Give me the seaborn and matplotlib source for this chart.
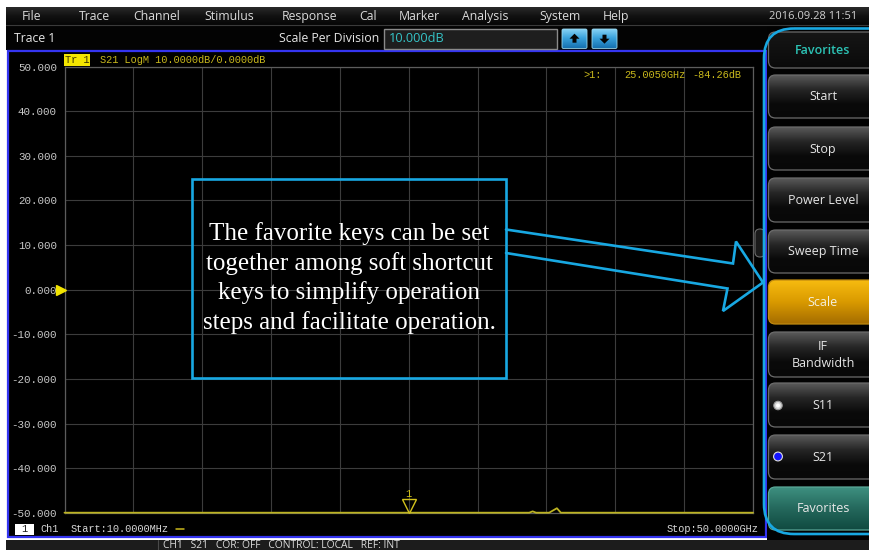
import numpy as np
import pandas as pd
import matplotlib
matplotlib.use("Agg")
import matplotlib.pyplot as plt
import matplotlib.colors as mcolors
import matplotlib.transforms as mtransforms
from matplotlib.patches import Rectangle, FancyBboxPatch, Polygon, Circle
from matplotlib.lines import Line2D
import seaborn as sns

# ---------------- measurement data ----------------
freq_ghz = [0.01, 5.0, 10.0, 15.0, 20.0, 25.005, 30.0, 33.75, 34.0, 34.25,
            35.2, 35.76, 36.05, 40.0, 45.0, 50.0]
s21_db = [-85.9, -85.2, -84.7, -85.4, -84.9, -84.26, -83.8, -80.5, -49.7, -81.0,
          -80.2, -49.0, -79.8, -84.6, -85.1, -85.8]
y_ticks_db = [50, 40, 30, 20, 10, 0, -10, -20, -30, -40, -50]
scale_per_div_db = 10.0
ref_level_db = 0.0
marker_freq_ghz = 25.005
marker_db = -84.26
start_label = "Start:10.0000MHz"
stop_label = "Stop:50.0000GHz"

menu_items = ["File", "Trace", "Channel", "Stimulus", "Response", "Cal",
              "Marker", "Analysis", "System", "Help"]
timestamp = "2016.09.28 11:51"
softkeys = ["Favorites", "Start", "Stop", "Power Level", "Sweep Time", "Scale",
            "IF\nBandwidth", "S11", "S21", "Favorites"]
status_items = ["CH1", "S21", "COR: OFF", "CONTROL: LOCAL", "REF: INT"]
callout_text = ("The favorite keys can be set\ntogether among soft shortcut\n"
                "keys to simplify operation\nsteps and facilitate operation.")

# ---------------- layout (pixels, top-left origin) ----------------
W, H = 869, 550
menu_x = [22, 79, 133, 204, 282, 359, 399, 462, 539, 603]
key_rows = [(32, 68), (75, 118), (127, 170), (178, 222), (230, 273),
            (280, 324), (332, 377), (383, 427), (435, 479), (487, 530)]
plot_box = (64.5, 66.7, 753.0, 512.7)   # left, top, right, bottom

YELLOW = "#c9b81c"
MONO = "Liberation Mono"
MONO_SIZE = 7.4
UI = "Open Sans"

sns.set_theme(style="dark")
plt.rcParams["font.family"] = ["DejaVu Sans"]

fig = plt.figure(figsize=(W / 100, H / 100), dpi=100, facecolor="white")


def px_axes(z):
    a = fig.add_axes([0, 0, 1, 1], zorder=z)
    a.set_xlim(0, W)
    a.set_ylim(H, 0)
    a.axis("off")
    a.patch.set_alpha(0)
    return a


bg = px_axes(0)
ov = px_axes(5)


def gradient_box(a, x0, y0, x1, y1, stops, r=6, edge="none", lw=0.8, z=1):
    patch = FancyBboxPatch((x0, y0), x1 - x0, y1 - y0,
                           boxstyle=f"round,pad=0,rounding_size={r}",
                           fc="none", ec=edge, lw=lw, zorder=z + 0.1)
    a.add_patch(patch)
    n = 96
    t = np.linspace(0, 1, n)
    pos = np.linspace(0, 1, len(stops))
    cols = np.array([mcolors.to_rgb(c) for c in stops])
    img = np.stack([np.interp(t, pos, cols[:, k]) for k in range(3)], axis=1)[:, None, :]
    im = a.imshow(img, extent=(x0, x1, y1, y0), aspect="auto", zorder=z,
                  interpolation="bilinear")
    im.set_clip_path(patch)
    return patch


# ---- window chrome ----
gradient_box(bg, 6, 7, W + 5, 25, ["#2a2a2a", "#111111", "#060606"], r=0)
bg.add_patch(Rectangle((6, 25), W, 25, fc="#030303", ec="none", zorder=1))
bg.add_line(Line2D([6, W], [25.3, 25.3], color="#3a3a3a", lw=0.8, zorder=2))
for name, x in zip(menu_items, menu_x):
    bg.text(x, 16.5, name, color="#dadada", fontsize=8.8, family=UI,
            ha="left", va="center", zorder=3)
bg.text(813, 16.5, timestamp, color="#d0d0d0", fontsize=8.0, family=UI,
        ha="center", va="center", zorder=3)

bg.text(14, 38, "Trace 1", color="#e6e6e6", fontsize=8.8, family=UI,
        ha="left", va="center", zorder=3)
bg.text(379, 38.5, "Scale Per Division", color="#e6e6e6", fontsize=8.8,
        family=UI, ha="right", va="center", zorder=3)
bg.add_patch(Rectangle((383.5, 28.5), 173, 20, fc="#1e1e1e", ec="#8a8a8a",
                       lw=1.0, zorder=2))
bg.text(389, 38.5, f"{scale_per_div_db:.3f}dB", color="#35c4c8", fontsize=9.2,
        family=UI, ha="left", va="center", zorder=3)
for bx, up in [(562, True), (592, False)]:
    gradient_box(bg, bx, 29, bx + 25, 48.5, ["#8fd8f8", "#3aa2dc", "#1670b0"],
                 r=1.5, edge="#9ad8f0", lw=0.6, z=2)
    cx, cy = bx + 12.5, 38.7
    s = 1 if up else -1
    arrow = [(cx, cy - 5 * s), (cx + 5, cy), (cx + 2, cy), (cx + 2, cy + 4 * s),
             (cx - 2, cy + 4 * s), (cx - 2, cy), (cx - 5, cy)]
    bg.add_patch(Polygon(arrow, closed=True, fc="#050505", ec="none", zorder=3))

# graph region framed in blue
bg.add_patch(Rectangle((8, 50.5), 758, 486.5, fc="black", ec="#3434f0",
                       lw=1.6, zorder=1))
# status bar
bg.add_patch(Rectangle((6, 539.5), W, 12, fc="#1c1c1c", ec="none", zorder=1))
bg.add_line(Line2D([158, 158], [539.5, 550], color="#4a4a4a", lw=0.8, zorder=2))
bg.text(163, 545.3, "   ".join(status_items), color="#dcdcdc", fontsize=7.4,
        family=UI, ha="left", va="center", zorder=3)

# soft-key panel
bg.add_patch(Rectangle((767, 25), W - 767, 515, fc="#020202", ec="none", zorder=1))
# scroll grip at the panel edge
bg.add_patch(FancyBboxPatch((755, 229), 10, 28, boxstyle="round,pad=0,rounding_size=5",
                            fc="#1a1a1a", ec="#6a6a6a", lw=0.8, zorder=1.5))
key_styles = {
    "plain": (["#5a5a5a", "#262626", "#0a0a0a", "#080808"], "#6c6c6c", "#e6e6e6"),
    "title": (["#161616", "#0a0a0a"], "#6a6a6a", "#2cc2b4"),
    "active": (["#f7bb10", "#d99a00", "#a46c00"], "#c08a10", "#f4f0e0"),
    "fav": (["#3e9080", "#24685c", "#104a40"], "#5aa898", "#e8e8e8"),
}
for i, (label, (y0, y1)) in enumerate(zip(softkeys, key_rows)):
    if i == 0:
        st = "title"
    elif label == "Scale":
        st = "active"
    elif i == len(softkeys) - 1:
        st = "fav"
    else:
        st = "plain"
    stops, edge, tc = key_styles[st]
    gradient_box(bg, 768.5, y0, 885, y1, stops, r=7, edge=edge, lw=0.9, z=2)
    bg.text(823, (y0 + y1) / 2 + 0.5, label, color=tc, fontsize=9.0, family=UI,
            ha="center", va="center", linespacing=1.45, zorder=4,
            fontweight="semibold" if st == "title" else "normal")
# S-parameter selector dots
bg.add_patch(Circle((778, 405.5), 4.2, fc="#d8d8d8", ec="#9a9a9a", lw=0.8, zorder=4))
bg.add_patch(Circle((778, 405.5), 2.0, fc="white", ec="none", zorder=5))
bg.add_patch(Circle((778, 456.5), 4.4, fc="#1414ff", ec="#e0e0e0", lw=0.8, zorder=4))

bg.set_xlim(0, W)
bg.set_ylim(H, 0)

# ---------------- trace plot ----------------
l, t, r, b = plot_box
ax = fig.add_axes([l / W, (H - b) / H, (r - l) / W, (b - t) / H], zorder=2)
ax.set_facecolor("black")

lo, hi = y_ticks_db[-1], y_ticks_db[0]
trace = pd.DataFrame({"freq": freq_ghz, "s21": np.clip(s21_db, lo, hi)})
sns.lineplot(data=trace, x="freq", y="s21", ax=ax, color="#bdb321", lw=1.3,
             zorder=5, clip_on=False)

ax.set_xlim(freq_ghz[0], freq_ghz[-1])
ax.set_ylim(lo, hi)
ax.set_xticks(np.linspace(freq_ghz[0], freq_ghz[-1], 11))
ax.set_yticks(y_ticks_db)
ax.set_yticklabels([f"{v:.3f}" for v in y_ticks_db], family=MONO)
ax.tick_params(axis="y", length=0, pad=5.4, labelcolor="#c8c8c8", labelsize=7.8)
ax.tick_params(axis="x", length=0, labelbottom=False)
ax.set_xlabel("")
ax.set_ylabel("")
ax.grid(True, color="#3c3c3c", lw=0.8)
for sp in ax.spines.values():
    sp.set_color("#5c5c5c")
    sp.set_linewidth(0.9)

# marker 1
mk_y = float(np.clip(marker_db, lo, hi))
ax.plot([marker_freq_ghz], [mk_y], marker="v", ms=10, mfc="none", mec="#d2c21c",
        mew=1.0, clip_on=False, zorder=6,
        transform=mtransforms.offset_copy(ax.transData, fig=fig, x=0, y=6.5, units="dots"))
ax.text(marker_freq_ghz, mk_y, "1", color="#d2c21c", fontsize=7.5, family=MONO,
        ha="center", va="center", zorder=6,
        transform=mtransforms.offset_copy(ax.transData, fig=fig, x=0, y=19, units="dots"))
# reference level pointer
ax.plot([freq_ghz[0]], [ref_level_db], marker=">", ms=7, mfc="#f2e400", mec="#f2e400",
        clip_on=False, zorder=6,
        transform=mtransforms.offset_copy(ax.transData, fig=fig, x=-3.5, y=0, units="dots"))

# ---------------- annotations on top ----------------
ov.add_patch(Rectangle((64, 54), 26, 11.5, fc="#f4e600", ec="none", zorder=2))
ov.text(77, 60, "Tr 1", color="#3a3400", fontsize=MONO_SIZE, family=MONO,
        ha="center", va="center", zorder=3)
ov.text(100, 60, f"S21 LogM {scale_per_div_db:.4f}dB/{ref_level_db:.4f}dB",
        color=YELLOW, fontsize=MONO_SIZE, family=MONO, ha="left", va="center")
ov.text(583, 74.5, ">1:", color=YELLOW, fontsize=MONO_SIZE, family=MONO,
        ha="left", va="center")
ov.text(624, 74.5, f"{marker_freq_ghz:.4f}GHz", color=YELLOW, fontsize=MONO_SIZE,
        family=MONO, ha="left", va="center")
ov.text(692, 74.5, f"{marker_db:.2f}dB", color=YELLOW, fontsize=MONO_SIZE, family=MONO,
        ha="left", va="center")

ov.add_patch(Rectangle((15, 523.5), 19, 11, fc="white", ec="none", zorder=2))
ov.text(24.5, 529, "1", color="#202020", fontsize=MONO_SIZE, family=MONO,
        ha="center", va="center", zorder=3)
ov.text(40, 529, "Ch1", color="#d8d8d8", fontsize=MONO_SIZE, family=MONO,
        ha="left", va="center")
ov.text(71, 529, start_label, color="#d8d8d8", fontsize=MONO_SIZE, family=MONO,
        ha="left", va="center")
ov.add_line(Line2D([176, 184], [528.5, 528.5], color=YELLOW, lw=1.1))
ov.text(758, 529, stop_label, color="#d8d8d8", fontsize=MONO_SIZE, family=MONO,
        ha="right", va="center")

# callout box and block arrow pointing at the soft keys
CYAN = "#18a8e2"
ov.add_patch(Rectangle((192, 178.5), 314, 199, fc="none", ec=CYAN, lw=1.9, zorder=4))
ov.text(349, 278, callout_text, color="white", fontsize=18, family="Liberation Serif",
        ha="center", va="center", linespacing=1.37, zorder=4)
arrow_pts = [(506, 229.5), (733, 263.5), (736, 241.5), (763, 282.5),
             (723, 311), (727.5, 288.5), (506, 253)]
ov.add_line(Line2D(*zip(*arrow_pts), color=CYAN, lw=1.9, solid_joinstyle="miter", zorder=4))
ov.add_patch(FancyBboxPatch((764, 28.5), 140, 505.5,
                            boxstyle="round,pad=0,rounding_size=30",
                            fc="none", ec=CYAN, lw=1.9, zorder=4))

fig.savefig("out.png", dpi=100, facecolor="white")
